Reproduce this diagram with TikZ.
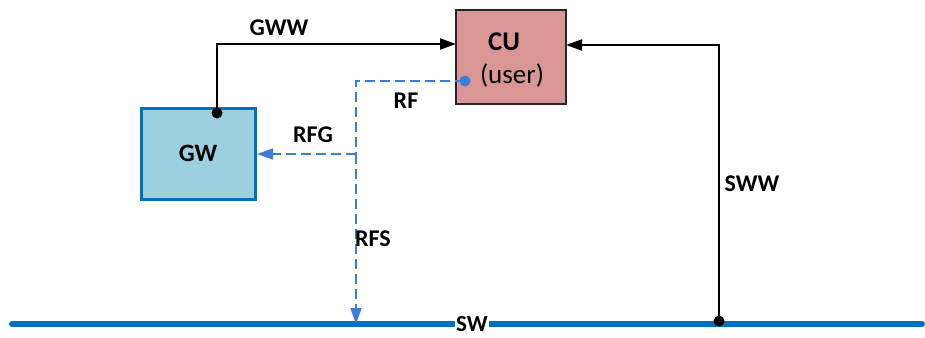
\documentclass[tikz,border=0pt]{standalone}
\usepackage{fontspec}
\setmainfont{Carlito}
\usetikzlibrary{arrows.meta}
\definecolor{gwfill}{HTML}{9DD0DE}
\definecolor{gwedge}{HTML}{0070C0}
\definecolor{cufill}{HTML}{D99694}
\definecolor{rfblue}{HTML}{3B7DD8}
\definecolor{swblue}{HTML}{0070C0}
\tikzset{
  box/.style={draw, rectangle, inner sep=0pt, anchor=center},
  gwbox/.style={box, fill=gwfill, draw=gwedge, line width=3pt, minimum width=114pt, minimum height=91pt},
  cubox/.style={box, fill=cufill, draw=black!85, line width=1.4pt, minimum width=110pt, minimum height=94pt},
  conn/.style={draw=black, line width=1.9pt, -{Triangle[length=16pt,width=11pt]}},
  rfconn/.style={draw=rfblue, line width=1.7pt, dash pattern=on 10pt off 5pt, -{Triangle[length=16pt,width=11pt]}},
  rfplain/.style={draw=rfblue, line width=1.7pt, dash pattern=on 10pt off 5pt},
  swline/.style={draw=swblue, line width=6pt, line cap=round},
  lbl/.style={font=\fontsize{24}{26}\selectfont\bfseries, inner sep=1pt},
  port/.style={circle, fill=black, inner sep=0pt, minimum size=11pt},
  bport/.style={circle, fill=rfblue, inner sep=0pt, minimum size=11pt}
}
\begin{document}
\begin{tikzpicture}[x=1pt, y=-1pt]
\useasboundingbox (0,0) rectangle (925,337);

% bus
\coordinate (swL) at (12,324);
\coordinate (swR) at (922,324);
\draw[swline] (swL) -- (swR);
\node[font=\fontsize{23}{25}\selectfont\bfseries, fill=white, inner xsep=1pt, inner ysep=0pt] (swlbl) at (472,324) {SW};

% blocks
\node[gwbox] (GW) at (198,153.5) {\fontsize{25}{28}\selectfont\bfseries GW};
\node[cubox] (CU) at (511,57) {};
\node[font=\fontsize{27}{30}\selectfont\bfseries, inner sep=0pt] (cutitle) at (504,42) {CU};
\node[font=\fontsize{27}{30}\selectfont, inner sep=0pt] (cusub) at (512,75) {(user)};

% ports
\coordinate (gwport) at (217,113);
\coordinate (cuinL) at (456,44);
\coordinate (cuinR) at (566,45);
\coordinate (swport) at (719,321);
\coordinate (rfport) at (465,81);
\coordinate (rfcorner) at (356,81);
\coordinate (rfbranch) at (356,154);
\coordinate (rfend) at (356,324);
\coordinate (gwin) at (257,154);

% GWW link
\draw[conn] (gwport) |- (cuinL);
\node[port] at (gwport) {};
\node[lbl] (gww) at (279,28) {GWW};

% SWW link
\draw[conn] (swport) |- (cuinR);
\node[port] at (swport) {};
\node[lbl] (sww) at (752,184) {SWW};

% RF links
\draw[rfplain] (rfport) -- (rfcorner) -- (rfbranch);
\draw[rfconn] (rfbranch) -- (gwin);
\draw[rfconn] (rfbranch) -- (rfend);
\node[bport] at (rfport) {};
\node[lbl] (rf) at (406,101) {RF};
\node[lbl] (rfg) at (313,135) {RFG};
\node[lbl] (rfs) at (373,239) {RFS};
\end{tikzpicture}
\end{document}
